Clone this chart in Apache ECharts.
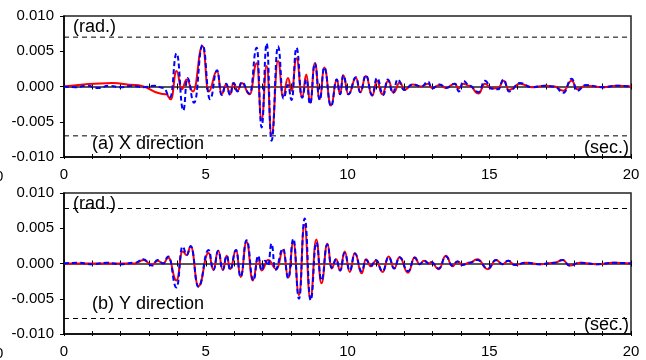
<!DOCTYPE html>
<html>
<head>
<meta charset="utf-8">
<script src="https://cdn.jsdelivr.net/npm/echarts@6/dist/echarts.min.js"></script>
<style>
  html, body { margin: 0; padding: 0; background: #fff; }
  #main { width: 646px; height: 360px; }
</style>
</head>
<body>
<div id="main"></div>
<script>
// time (sec.) , rotation (rad.), peaks and troughs only
var xRed = [[0,0],[1.7,0.0005],[2.5,0.0002],[3.6,-0.0011],[3.77,-0.0018],[3.97,0.0022],[4.15,-0.0004],[4.33,0.001],[4.55,-0.0007],[4.89,0.0057],[5.1,-0.0007],[5.4,0.0022],[5.56,-0.0011],[5.72,0.0003],[5.86,-0.0011],[5.98,0.0005],[6.12,-0.0006],[6.27,0.0005],[6.55,-0.0011],[6.8,0.0033],[6.97,-0.0047],[7.15,0.0029],[7.32,-0.0068],[7.55,0.0036],[7.73,-0.0014],[7.9,0.0012],[8.03,-0.0006],[8.2,0.004],[8.4,-0.0015],[8.55,0.0017],[8.68,-0.0023],[8.85,0.0033],[9.02,-0.0018],[9.18,0.0027],[9.42,-0.0027],[9.62,0.001],[9.74,-0.0011],[9.85,0.0016],[10.03,-0.0011],[10.3,0.0012],[10.45,-0.0008],[10.65,0.0015],[10.87,-0.0013],[11.04,0.0008],[11.22,-0.0011],[11.44,0.0008],[11.62,-0.0009],[11.85,0.0006],[12.0,-0.0005],[12.3,0.0003],[12.6,0],[12.85,0.0004],[12.97,-0.0002],[13.26,0.0002],[13.47,-0.0002],[13.79,0.0004],[13.91,-0.0003],[14.09,0.0004],[14.3,0.0001],[14.62,-0.001],[14.85,0.0004],[15.08,-0.0003],[15.32,-0.0002],[15.5,0.0008],[15.7,-0.0005],[16.08,0.0004],[16.5,-0.0001],[17.0,0.0001],[17.3,0],[17.61,-0.0006],[17.91,0.0008],[18.1,-0.0004],[18.4,0.0001],[19.0,-0.0001],[19.5,0.0001],[20,0]];
var xBlue = [[0,0],[0.4,-0.0001],[0.8,0.0001],[1.2,-0.0002],[1.6,0.0001],[2.0,-0.0001],[2.4,0.0001],[2.8,-0.0001],[3.2,0.0001],[3.5,-0.0002],[3.75,-0.0015],[3.97,0.0047],[4.21,-0.0034],[4.35,0.0012],[4.59,-0.0023],[4.89,0.0059],[5.15,-0.0018],[5.4,0.0023],[5.56,-0.0012],[5.72,0.0004],[5.86,-0.0012],[5.98,0.0005],[6.12,-0.0007],[6.27,0.0006],[6.55,-0.001],[6.8,0.0055],[6.97,-0.0058],[7.15,0.0061],[7.32,-0.0077],[7.55,0.0057],[7.74,-0.0017],[7.9,0.0002],[8.03,-0.0019],[8.2,0.0055],[8.4,-0.0016],[8.55,0.001],[8.68,-0.0025],[8.85,0.0033],[9.02,-0.0019],[9.18,0.0027],[9.42,-0.0028],[9.62,0.001],[9.74,-0.0011],[9.85,0.0016],[10.03,-0.0011],[10.3,0.0013],[10.45,-0.0008],[10.65,0.0016],[10.87,-0.0012],[11.04,0.0012],[11.26,-0.0012],[11.42,0.001],[11.6,-0.0009],[11.77,0.001],[12.0,-0.0005],[12.3,0.0003],[12.6,0],[12.85,0.0007],[12.97,-0.0003],[13.26,0.0003],[13.47,-0.0002],[13.79,0.0004],[13.93,-0.0007],[14.09,0.0008],[14.3,0.0001],[14.62,-0.0008],[14.85,0.0008],[15.08,-0.0003],[15.32,-0.0004],[15.5,0.001],[15.7,-0.0007],[16.08,0.0005],[16.5,-0.0001],[17.0,0.0001],[17.3,0],[17.61,-0.0009],[17.91,0.0011],[18.1,-0.0006],[18.4,0.0002],[19.0,-0.0001],[19.5,0.0001],[20,0]];
var yRed = [[0,0],[2.5,0],[2.8,0.0005],[3.1,-0.0002],[3.3,0.0004],[3.5,0],[3.68,0.0008],[3.97,-0.0024],[4.18,0.0017],[4.33,0.0012],[4.47,0.0024],[4.74,-0.0032],[5.1,0.0015],[5.27,-0.0009],[5.44,0.0018],[5.6,-0.0009],[5.74,0.0011],[5.86,-0.0008],[6.07,0.0019],[6.23,-0.0019],[6.44,0.0031],[6.66,-0.0024],[6.85,0.0008],[6.97,-0.001],[7.2,0.0005],[7.5,-0.0008],[7.73,0.0019],[7.91,-0.002],[8.09,0.003],[8.29,-0.0045],[8.48,0.0055],[8.69,-0.005],[8.9,0.0034],[9.08,-0.0028],[9.29,0.0028],[9.44,-0.0007],[9.6,0.0006],[9.74,-0.001],[9.9,0.0017],[10.08,-0.0012],[10.26,0.0015],[10.5,-0.0014],[10.65,0.0006],[10.83,-0.0004],[11.0,0.0004],[11.24,-0.0012],[11.45,0.001],[11.65,-0.0007],[11.83,0.0009],[12.14,-0.0013],[12.37,0.0009],[12.54,-0.0001],[12.7,0.0004],[12.88,0],[12.95,0.0002],[13.22,-0.0008],[13.47,0.0011],[13.7,-0.0004],[13.88,0.0003],[14.05,-0.0002],[14.3,0.0001],[14.58,0.0006],[14.95,-0.0008],[15.24,0.0005],[15.47,-0.0001],[15.67,0.0004],[15.9,-0.0002],[16.3,0.0001],[16.8,-0.0001],[17.3,0.0001],[17.59,0.0005],[17.83,-0.0003],[18.2,0.0001],[18.8,-0.0001],[19.4,0.0001],[20,0]];
var yBlue = [[0,0],[0.5,0.0001],[1.0,-0.0001],[1.5,0.0001],[2.0,-0.0001],[2.5,0.0001],[2.8,0.0006],[3.1,-0.0003],[3.3,0.0005],[3.5,0],[3.68,0.001],[3.97,-0.0034],[4.18,0.0024],[4.33,0.0012],[4.47,0.0025],[4.74,-0.0033],[5.1,0.0019],[5.27,-0.0009],[5.44,0.0018],[5.6,-0.0009],[5.74,0.0011],[5.86,-0.0009],[6.07,0.0019],[6.23,-0.0019],[6.44,0.0033],[6.68,-0.0024],[6.85,0.0011],[6.97,-0.001],[7.1,0.0004],[7.2,-0.0003],[7.32,0.0028],[7.45,-0.0009],[7.73,0.0021],[7.91,-0.0021],[8.09,0.0035],[8.29,-0.005],[8.49,0.0064],[8.7,-0.0052],[8.9,0.003],[9.08,-0.0024],[9.29,0.0027],[9.44,-0.0006],[9.6,0.0006],[9.74,-0.001],[9.9,0.0015],[10.08,-0.001],[10.26,0.0014],[10.5,-0.0011],[10.65,0.0005],[10.83,-0.0003],[11.0,0.0005],[11.24,-0.0011],[11.45,0.0009],[11.65,-0.0007],[11.83,0.0009],[12.14,-0.0011],[12.37,0.0008],[12.54,-0.0001],[12.7,0.0004],[12.88,0],[12.95,0.0002],[13.22,-0.0007],[13.47,0.001],[13.7,-0.0003],[13.88,0.0003],[14.05,-0.0002],[14.3,0.0001],[14.58,0.0005],[14.95,-0.0007],[15.24,0.0005],[15.47,-0.0001],[15.67,0.0004],[15.9,-0.0002],[16.3,0.0001],[16.8,-0.0001],[17.3,0.0001],[17.59,0.0005],[17.83,-0.0003],[18.2,0.0001],[18.8,-0.0001],[19.4,0.0001],[20,0]];
var xLimit = 0.007;
var yLimit = 0.0078;
var panelTitles = ['(a) X direction', '(b) Y direction'];

var FONT = 'Liberation Sans, Arial, sans-serif';
var tops = [16, 193];

var grids = [], xAxes = [], yAxes = [], series = [], texts = [];

function addPanel(i, red, blue, limit, title){
  grids.push({left: 64, top: tops[i], width: 567, height: 141, show: true,
    borderColor: '#222', borderWidth: 1.5, backgroundColor: 'transparent'});
  var base = {gridIndex: i, type: 'value', min: 0, max: 20, interval: 1, splitLine: {show: false}};
  // bottom axis with labels
  xAxes.push(Object.assign({}, base, {
    position: 'bottom',
    axisLine: {onZero: false, lineStyle: {color: '#000', width: 1.5}},
    axisTick: {inside: false, length: 2, lineStyle: {color: '#000'}},
    axisLabel: {fontSize: 15, color: '#000', fontFamily: FONT, margin: 10,
      formatter: function(v){ return v % 5 === 0 ? String(v) : ''; }}
  }));
  xAxes.push(Object.assign({}, base, {
    position: 'bottom',
    axisLine: {show: false, onZero: false},
    axisTick: {inside: true, length: 3, lineStyle: {color: '#000'}},
    axisLabel: {show: false}
  }));
  // zero line with cross ticks
  xAxes.push(Object.assign({}, base, {
    position: 'top',
    axisLine: {onZero: true, onZeroAxisIndex: i, lineStyle: {color: '#222', width: 1.5}},
    axisTick: {inside: false, length: 3, lineStyle: {color: '#000'}},
    axisLabel: {show: false}
  }));
  xAxes.push(Object.assign({}, base, {
    position: 'top',
    axisLine: {show: false, onZero: true, onZeroAxisIndex: i},
    axisTick: {inside: true, length: 3, lineStyle: {color: '#000'}},
    axisLabel: {show: false}
  }));
  yAxes.push({gridIndex: i, type: 'value', min: -0.01, max: 0.01, interval: 0.005,
    axisLine: {show: true, onZero: false, lineStyle: {color: '#000', width: 1.5}},
    axisTick: {show: true, length: 4, lineStyle: {color: '#000'}},
    splitLine: {show: false},
    axisLabel: {fontSize: 15, color: '#000', fontFamily: FONT, margin: 10,
      formatter: function(v){ return (Math.round(v * 1000) / 1000).toFixed(3); }}
  });
  // dashed limit lines
  [limit, -limit].forEach(function(l){
    series.push({type: 'line', xAxisIndex: 4 * i, yAxisIndex: i, data: [[0, l], [20, l]],
      showSymbol: false, silent: true, z: 1,
      lineStyle: {color: '#000', width: 1, type: [5, 4]}});
  });
  series.push({type: 'line', xAxisIndex: 4 * i, yAxisIndex: i, data: red, showSymbol: false,
    smooth: 0.5, smoothMonotone: 'x', z: 3,
    lineStyle: {color: '#ff0000', width: 2}});
  series.push({type: 'line', xAxisIndex: 4 * i, yAxisIndex: i, data: blue, showSymbol: false,
    smooth: 0.5, smoothMonotone: 'x', z: 4,
    lineStyle: {color: '#0000ff', width: 2, type: [5, 3]}});

  var t = tops[i];
  texts.push({type: 'text', left: 73, top: t + 2, z: 10,
    style: {text: '(rad.)', fontSize: 18, fontFamily: FONT, fill: '#000'}});
  texts.push({type: 'text', left: 92, top: t + 119 + (i ? -17 : 0), z: 10,
    style: {text: title, fontSize: 18, fontFamily: FONT, fill: '#000'}});
  texts.push({type: 'text', right: 17, top: t + 123, z: 10,
    style: {text: '(sec.)', fontSize: 18, fontFamily: FONT, fill: '#000'}});
  texts.push({type: 'text', left: -5, top: t + 153, z: 10,
    style: {text: '0', fontSize: 15, fontFamily: FONT, fill: '#000'}});
}

addPanel(0, xRed, xBlue, xLimit, panelTitles[0]);
addPanel(1, yRed, yBlue, yLimit, panelTitles[1]);

var myChart = echarts.init(document.getElementById('main'), null, {renderer: 'canvas'});
var option = {
  animation: false,
  backgroundColor: '#fff',
  grid: grids,
  xAxis: xAxes,
  yAxis: yAxes,
  series: series,
  graphic: texts
};
myChart.setOption(option);
</script>
</body>
</html>
